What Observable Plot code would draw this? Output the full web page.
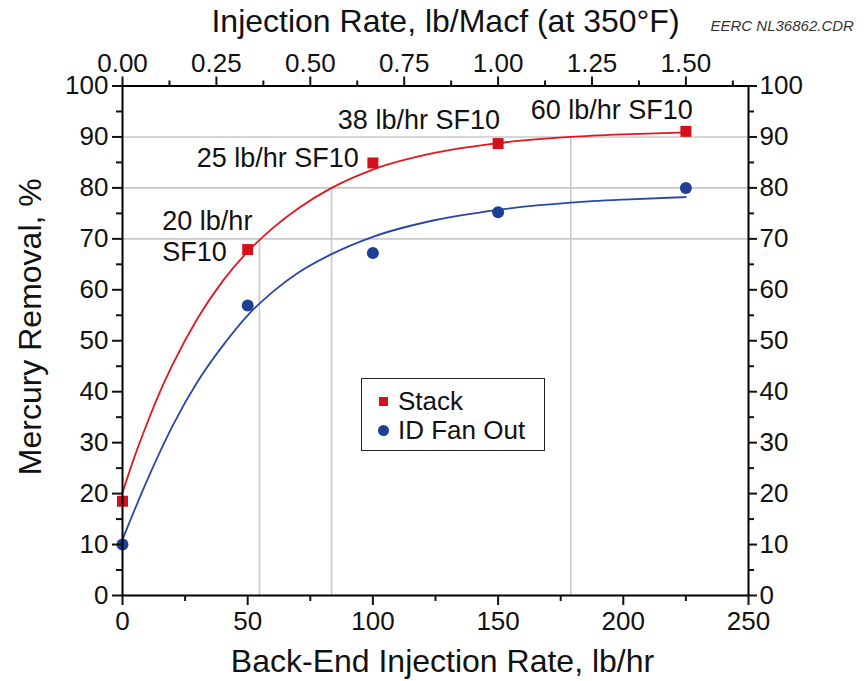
<!DOCTYPE html>
<html>
<head>
<meta charset="utf-8">
<script src="https://cdn.jsdelivr.net/npm/d3@7"></script>
<script src="https://cdn.jsdelivr.net/npm/@observablehq/plot@0.6"></script>
<style>
  html, body { margin: 0; padding: 0; background: #fff; }
  #wrap { position: relative; width: 868px; height: 681px; font-family: "Liberation Sans", Arial, Helvetica, sans-serif; }
  #legend { position: absolute; left: 361px; top: 378px; width: 184px; height: 73px; border: 1.5px solid #222; background: #fff; box-sizing: border-box; font-size: 26px; color: #111; }
  #legend .row { position: absolute; left: 0; height: 30px; line-height: 30px; white-space: nowrap; }
  #legend .sw { position: absolute; }
  #legend .lbl { position: absolute; left: 36px; }
</style>
</head>
<body>
<div id="wrap"><div id="chart"></div>
  <div id="legend"></div>
</div>
<script>
// ---- data ----
const stackRate = [0, 50, 100, 150, 225];
const stackRemoval = [18.5, 67.9, 84.9, 88.7, 91.1];
const fanRate = [0, 50, 100, 150, 225];
const fanRemoval = [10.0, 56.9, 67.2, 75.2, 80.0];

const stackFitRate = [0, 5, 10, 15, 20, 30, 40, 50, 60, 70, 83.5, 100, 125, 150, 179, 200, 225];
const stackFitRemoval = [20.2, 27.5, 34.0, 40.0, 45.3, 54.4, 61.7, 67.5, 72.1, 75.9, 80.0, 83.6, 86.9, 88.8, 90.0, 90.5, 90.9];
const fanFitRate = [0, 10, 20, 30, 40, 50, 60, 70, 83.5, 100, 125, 150, 179, 200, 225];
const fanFitRemoval = [11.0, 22.8, 33.3, 42.0, 49.0, 55.0, 59.6, 63.3, 67.0, 70.4, 73.7, 75.7, 77.1, 77.7, 78.2];

const guideRate = [54.7, 83.5, 179];
const guideRemoval = [70, 80, 90];

const annoText = ["20 lb/hr\nSF10", "25 lb/hr SF10", "38 lb/hr SF10", "60 lb/hr SF10"];
const annoRate = [15.9, 94.4, 86.0, 163.0];
const annoRemoval = [70.6, 86.0, 93.5, 95.4];
const annoAnchor = ["start", "end", "start", "start"];

const bottomTicks = [0, 50, 100, 150, 200, 250];
const bottomMinor = [25, 75, 125, 175, 225];
const yTicks = [0, 10, 20, 30, 40, 50, 60, 70, 80, 90, 100];
const yMinor = [5, 15, 25, 35, 45, 55, 65, 75, 85, 95];
const topTicks = [0, 0.25, 0.5, 0.75, 1.0, 1.25, 1.5];   // lb/Macf
const topMinor = [0.125, 0.375, 0.625, 0.875, 1.125, 1.375, 1.625];
const lbHrPerLbMacf = 150; // 1.50 lb/Macf = 225 lb/hr

const seriesNames = ["Stack", "ID Fan Out"];
const seriesColors = ["#d3101c", "#1d3f96"];
const lineColors = ["#e3161e", "#2a47a4"];

// ---- tables ----
const stack = stackRate.map((x, i) => ({x, y: stackRemoval[i]}));
const fan = fanRate.map((x, i) => ({x, y: fanRemoval[i]}));
const stackFit = stackFitRate.map((x, i) => ({x, y: stackFitRemoval[i]}));
const fanFit = fanFitRate.map((x, i) => ({x, y: fanFitRemoval[i]}));
const guides = guideRate.map((x, i) => ({x, y: guideRemoval[i]}));
const annos = annoText.map((t, i) => ({t, x: annoRate[i], y: annoRemoval[i], a: annoAnchor[i]}));

const font = '"Liberation Sans", Arial, Helvetica, sans-serif';
const grid = "#c8c8c8";

const chart = Plot.plot({
  width: 868,
  height: 681,
  marginLeft: 122,
  marginRight: 120,
  marginTop: 85.5,
  marginBottom: 86,
  style: {fontFamily: font, fontSize: "26px", color: "#111", background: "transparent", overflow: "visible"},
  x: {domain: [0, 250], label: null},
  y: {domain: [0, 100], label: null},
  marks: [
    Plot.ruleY(guideRemoval, {stroke: grid, strokeWidth: 1.6}),
    Plot.ruleX(guides, {x: "x", y1: 0, y2: "y", stroke: grid, strokeWidth: 1.6}),
    Plot.line(stackFit, {x: "x", y: "y", stroke: lineColors[0], strokeWidth: 1.8, curve: "monotone-x"}),
    Plot.line(fanFit, {x: "x", y: "y", stroke: lineColors[1], strokeWidth: 1.8, curve: "monotone-x"}),
    Plot.dot(stack, {x: "x", y: "y", symbol: "square", r: 6.2, fill: seriesColors[0], stroke: "none"}),
    Plot.dot(fan, {x: "x", y: "y", symbol: "circle", r: 6, fill: seriesColors[1], stroke: "none"}),
    Plot.frame({stroke: "#000", strokeWidth: 2}),
    // bottom axis
    Plot.axisX(bottomTicks, {anchor: "bottom", tickSize: 10, tickPadding: 6, fontSize: 26, strokeWidth: 2, tickFormat: d => String(d), label: null}),
    Plot.axisX(bottomMinor, {anchor: "bottom", tickSize: 6, strokeWidth: 2, tickFormat: () => "", label: null}),
    // top axis (lb/Macf)
    Plot.axisX(topTicks.map(v => v * lbHrPerLbMacf), {anchor: "top", tickSize: 10, tickPadding: 4, fontSize: 26, strokeWidth: 2, tickFormat: d => (d / lbHrPerLbMacf).toFixed(2), label: null}),
    Plot.axisX(topMinor.map(v => v * lbHrPerLbMacf), {anchor: "top", tickSize: 6, strokeWidth: 2, tickFormat: () => "", label: null}),
    // left axis
    Plot.axisY(yTicks, {anchor: "left", tickSize: 10, tickPadding: 4, fontSize: 26, strokeWidth: 2, tickFormat: d => String(d), label: null}),
    Plot.axisY(yMinor, {anchor: "left", tickSize: 6, strokeWidth: 2, tickFormat: () => "", label: null}),
    // right axis
    Plot.axisY(yTicks, {anchor: "right", tickSize: 8, tickPadding: 3, fontSize: 26, strokeWidth: 2, tickFormat: d => String(d), label: null}),
    Plot.axisY(yMinor, {anchor: "right", tickSize: 5, strokeWidth: 2, tickFormat: () => "", label: null}),
    // annotations
    Plot.text(annos.filter(d => d.a === "start"), {x: "x", y: "y", text: "t", textAnchor: "start", fontSize: 27, lineHeight: 1.12, fill: "#111"}),
    Plot.text(annos.filter(d => d.a === "end"), {x: "x", y: "y", text: "t", textAnchor: "end", fontSize: 27, lineHeight: 1.12, fill: "#111"}),
    // titles
    Plot.text(["Back-End Injection Rate, lb/hr"], {text: d => d, frameAnchor: "bottom", textAnchor: "middle", lineAnchor: "middle", dx: 7, dy: 66, fontSize: 32, fill: "#111"}),
    Plot.text(["Injection Rate, lb/Macf (at 350°F)"], {text: d => d, frameAnchor: "top", textAnchor: "middle", lineAnchor: "middle", dx: 10, dy: -64, fontSize: 32, fill: "#111"}),
    Plot.text(["Mercury Removal, %"], {text: d => d, frameAnchor: "left", textAnchor: "middle", lineAnchor: "middle", rotate: -90, dx: -92, dy: -14, fontSize: 32, fill: "#111"}),
    Plot.text(["EERC NL36862.CDR"], {text: d => d, frameAnchor: "top-right", textAnchor: "start", lineAnchor: "middle", dx: -38, dy: -60, fontSize: 15, fontStyle: "italic", fill: "#333"})
  ]
});
document.getElementById("chart").appendChild(chart);

// legend
const legend = document.getElementById("legend");
seriesNames.forEach((name, i) => {
  const row = document.createElement("div");
  row.className = "row";
  row.style.top = (7 + i * 29) + "px";
  const sw = document.createElement("span");
  sw.className = "sw";
  if (i === 0) {
    sw.style.cssText = `left:17px;top:11px;width:9px;height:9px;background:${seriesColors[i]};`;
  } else {
    sw.style.cssText = `left:16px;top:10px;width:11px;height:11px;border-radius:50%;background:${seriesColors[i]};`;
  }
  const lbl = document.createElement("span");
  lbl.className = "lbl";
  lbl.textContent = name;
  row.appendChild(sw);
  row.appendChild(lbl);
  legend.appendChild(row);
});
</script>
</body>
</html>
